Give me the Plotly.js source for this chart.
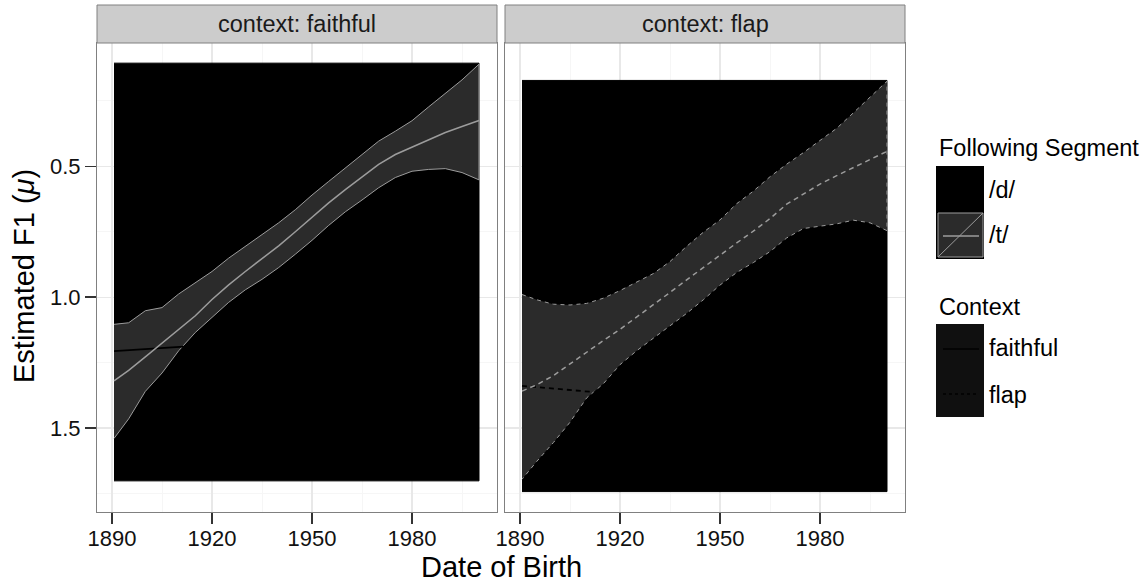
<!DOCTYPE html>
<html>
<head>
<meta charset="utf-8">
<script src="https://cdn.plot.ly/plotly-3.0.1.min.js"></script>
<style>html,body{margin:0;padding:0;background:#fff;}#chart{width:1148px;height:586px;}</style>
</head>
<body>
<div id="chart"></div>
<script>
// ---------------- DATA ----------------
const panels = ["faithful", "flap"];
const years = [1890.6, 1895, 1900, 1905, 1910, 1915, 1920, 1925, 1930, 1935, 1940, 1945,
               1950, 1955, 1960, 1965, 1970, 1975, 1980, 1985, 1990, 1995, 2000.1];

// context: faithful, following segment /t/
const faithfulTMean  = [1.320, 1.280, 1.228, 1.176, 1.124, 1.071, 1.009, 0.953, 0.902, 0.853, 0.804, 0.750,
                        0.695, 0.640, 0.589, 0.540, 0.493, 0.455, 0.426, 0.398, 0.371, 0.348, 0.325];
const faithfulTLow   = [1.104, 1.098, 1.052, 1.040, 0.988, 0.945, 0.902, 0.851, 0.806, 0.762, 0.716, 0.666,
                        0.610, 0.558, 0.506, 0.454, 0.404, 0.366, 0.326, 0.273, 0.222, 0.170, 0.110];
const faithfulTHigh  = [1.540, 1.465, 1.360, 1.290, 1.205, 1.135, 1.078, 1.020, 0.972, 0.932, 0.887, 0.836,
                        0.783, 0.726, 0.674, 0.629, 0.582, 0.543, 0.519, 0.512, 0.509, 0.524, 0.552];
// context: faithful, following segment /d/
const faithfulDMean  = [1.206, 1.202, 1.198, 1.194, 1.190, 1.186, 1.183, 1.180, 1.177, 1.174, 1.171, 1.168,
                        1.165, 1.162, 1.159, 1.156, 1.152, 1.148, 1.144, 1.139, 1.134, 1.128, 1.122];
const faithfulDLow   = [0.106, 0.106, 0.106, 0.106, 0.106, 0.106, 0.106, 0.106, 0.106, 0.106, 0.106, 0.106,
                        0.106, 0.106, 0.106, 0.106, 0.106, 0.106, 0.106, 0.106, 0.106, 0.106, 0.106];
const faithfulDHigh  = [1.702, 1.702, 1.702, 1.702, 1.702, 1.702, 1.702, 1.702, 1.702, 1.702, 1.702, 1.702,
                        1.702, 1.702, 1.702, 1.702, 1.702, 1.702, 1.702, 1.702, 1.702, 1.702, 1.702];

// context: flap, following segment /t/
const flapTMean = [1.359, 1.335, 1.300, 1.255, 1.208, 1.166, 1.123, 1.077, 1.030, 0.982, 0.934, 0.886,
                   0.838, 0.793, 0.748, 0.700, 0.645, 0.608, 0.568, 0.536, 0.505, 0.475, 0.443];
const flapTLow  = [0.990, 1.010, 1.027, 1.030, 1.024, 1.004, 0.975, 0.943, 0.910, 0.864, 0.806, 0.752,
                   0.705, 0.643, 0.595, 0.540, 0.492, 0.448, 0.403, 0.355, 0.296, 0.236, 0.175];
const flapTHigh = [1.696, 1.628, 1.556, 1.478, 1.385, 1.331, 1.258, 1.205, 1.157, 1.111, 1.062, 1.010,
                   0.954, 0.906, 0.868, 0.826, 0.774, 0.738, 0.729, 0.720, 0.706, 0.716, 0.746];
// context: flap, following segment /d/
const flapDMean = [1.339, 1.344, 1.350, 1.356, 1.361, 1.367, 1.372, 1.378, 1.383, 1.389, 1.394, 1.399,
                   1.404, 1.409, 1.414, 1.419, 1.424, 1.429, 1.434, 1.439, 1.444, 1.449, 1.454];
const flapDLow  = [0.172, 0.172, 0.172, 0.172, 0.172, 0.172, 0.172, 0.172, 0.172, 0.172, 0.172, 0.172,
                   0.172, 0.172, 0.172, 0.172, 0.172, 0.172, 0.172, 0.172, 0.172, 0.172, 0.172];
const flapDHigh = [1.743, 1.743, 1.743, 1.743, 1.743, 1.743, 1.743, 1.743, 1.743, 1.743, 1.743, 1.743,
                   1.743, 1.743, 1.743, 1.743, 1.743, 1.743, 1.743, 1.743, 1.743, 1.743, 1.743];

const xTickVals = [1890, 1920, 1950, 1980];
const yTickVals = [0.5, 1.0, 1.5];
const yTickText = ["0.5", "1.0", "1.5"];
const segmentLabels = ["/d/", "/t/"];
const contextLabels = ["faithful", "flap"];

// ---------------- STYLE ----------------
const FONT = "Liberation Sans, Arial, Helvetica, sans-serif";
const W = 1148, H = 586, ML = 97, MR = 243, MT = 43, MB = 74;
const PW = W - ML - MR, PH = H - MT - MB;
const px = v => (v - ML) / PW;
const py = v => (H - MB - v) / PH;

const T_FILL = "#2b2b2b", T_LINE = "#9c9c9c";
const dashFor = {faithful: "solid", flap: "5px,4px"};
const edgeDash = {faithful: "solid", flap: "4px,4px"};

function ribbon(xa, ya, lo, hi, fill, line, dash) {
  const xs = years.concat(years.slice().reverse());
  const ys = lo.concat(hi.slice().reverse());
  return {x: xs, y: ys, xaxis: xa, yaxis: ya, type: "scatter", mode: "lines",
          fill: "toself", fillcolor: fill, line: {color: line, width: 1, dash: dash},
          hoverinfo: "skip", showlegend: false};
}
function meanLine(xa, ya, vals, color, dash, w) {
  return {x: years, y: vals, xaxis: xa, yaxis: ya, type: "scatter", mode: "lines",
          line: {color: color, width: w, dash: dash}, showlegend: false, hoverinfo: "skip"};
}

const traces = [
  ribbon("x", "y", faithfulDLow, faithfulDHigh, "#000000", "#000000", "solid"),
  ribbon("x", "y", faithfulTLow, faithfulTHigh, T_FILL, T_LINE, edgeDash.faithful),
  meanLine("x", "y", faithfulDMean, "#000000", dashFor.faithful, 1.8),
  meanLine("x", "y", faithfulTMean, T_LINE, dashFor.faithful, 1.5),
  ribbon("x2", "y2", flapDLow, flapDHigh, "#000000", "#000000", "solid"),
  ribbon("x2", "y2", flapTLow, flapTHigh, T_FILL, T_LINE, edgeDash.flap),
  meanLine("x2", "y2", flapDMean, "#000000", dashFor.flap, 1.8),
  meanLine("x2", "y2", flapTMean, T_LINE, dashFor.flap, 1.5)
];

const gridMajor = "#e8e8e8", gridMinor = "#f6f6f6", border = "#808080";
function xax(domain) {
  return {domain: domain, range: [1885.5, 2005.5], tickmode: "array", tickvals: xTickVals,
          ticks: "outside", ticklen: 11, tickwidth: 1.5, tickcolor: "#333333", ticklabelstandoff: -4,
          showgrid: true, gridcolor: gridMajor, gridwidth: 1.2,
          minor: {dtick: 15, tick0: 1890, showgrid: true, gridcolor: gridMinor, gridwidth: 1, ticks: ""},
          showline: true, mirror: true, linecolor: border, linewidth: 1,
          zeroline: false, tickfont: {family: FONT, size: 22, color: "#111111"}};
}
function yax(anchor, showLabels) {
  return {anchor: anchor, domain: [0, 1], range: [1.821, 0.029], tickmode: "array",
          tickvals: yTickVals, ticktext: yTickText, showticklabels: showLabels,
          ticks: showLabels ? "outside" : "", ticklen: 11, tickwidth: 1.5, tickcolor: "#333333",
          showgrid: true, gridcolor: gridMajor, gridwidth: 1.2,
          minor: {dtick: 0.25, tick0: 0, showgrid: true, gridcolor: gridMinor, gridwidth: 1, ticks: ""},
          showline: true, mirror: true, linecolor: border, linewidth: 1,
          zeroline: false, tickfont: {family: FONT, size: 22, color: "#111111"}};
}

const shapes = [], annotations = [];
// strips
["x", "x2"].forEach((xa, i) => {
  shapes.push({type: "rect", xref: xa + " domain", yref: "paper", x0: 0, x1: 1, y0: py(43), y1: py(5),
               fillcolor: "#cccccc", line: {color: border, width: 1}, layer: "above"});
  annotations.push({xref: xa + " domain", yref: "paper", x: 0.5, y: py(24), text: "context: " + panels[i],
                    showarrow: false, xanchor: "center", yanchor: "middle",
                    font: {family: FONT, size: 23.5, color: "#1a1a1a"}});
});
// axis titles
annotations.push({xref: "paper", yref: "paper", x: px(501), y: py(567), text: "Date of Birth",
                  showarrow: false, xanchor: "center", yanchor: "middle",
                  font: {family: FONT, size: 29, color: "#000000"}});
annotations.push({xref: "paper", yref: "paper", x: px(24), y: py(276), text: "Estimated F1 (<i>μ</i>)",
                  textangle: -90, showarrow: false, xanchor: "center", yanchor: "middle",
                  font: {family: FONT, size: 29, color: "#000000"}});
// legend: Following Segment
const legFont = {family: FONT, size: 23.5, color: "#000000"};
annotations.push({xref: "paper", yref: "paper", x: px(937), y: py(148), text: "Following Segment",
                  showarrow: false, xanchor: "left", yanchor: "middle", font: legFont});
shapes.push({type: "rect", xref: "paper", yref: "paper", x0: px(936), x1: px(984), y0: py(212), y1: py(166),
             fillcolor: "#000000", line: {width: 0}});
shapes.push({type: "rect", xref: "paper", yref: "paper", x0: px(936), x1: px(984), y0: py(259), y1: py(212),
             fillcolor: "#000000", line: {width: 0}});
shapes.push({type: "rect", xref: "paper", yref: "paper", x0: px(938), x1: px(983), y0: py(257), y1: py(213),
             fillcolor: T_FILL, line: {color: T_LINE, width: 1}});
shapes.push({type: "line", xref: "paper", yref: "paper", x0: px(943), x1: px(979), y0: py(236), y1: py(236),
             line: {color: T_LINE, width: 1.5}});
shapes.push({type: "line", xref: "paper", yref: "paper", x0: px(938), x1: px(983), y0: py(257), y1: py(213),
             line: {color: T_LINE, width: 1}});
annotations.push({xref: "paper", yref: "paper", x: px(987), y: py(190), text: segmentLabels[0],
                  showarrow: false, xanchor: "left", yanchor: "middle", font: legFont});
annotations.push({xref: "paper", yref: "paper", x: px(987), y: py(235), text: segmentLabels[1],
                  showarrow: false, xanchor: "left", yanchor: "middle", font: legFont});
// legend: Context
annotations.push({xref: "paper", yref: "paper", x: px(937), y: py(307), text: "Context",
                  showarrow: false, xanchor: "left", yanchor: "middle", font: legFont});
shapes.push({type: "rect", xref: "paper", yref: "paper", x0: px(936), x1: px(984), y0: py(417), y1: py(324),
             fillcolor: "#101010", line: {width: 0}});
shapes.push({type: "line", xref: "paper", yref: "paper", x0: px(943), x1: px(979), y0: py(349), y1: py(349),
             line: {color: "#000000", width: 1.5}});
shapes.push({type: "line", xref: "paper", yref: "paper", x0: px(943), x1: px(979), y0: py(394), y1: py(394),
             line: {color: "#000000", width: 1.5, dash: "3px,3px"}});
annotations.push({xref: "paper", yref: "paper", x: px(987), y: py(348), text: contextLabels[0],
                  showarrow: false, xanchor: "left", yanchor: "middle", font: legFont});
annotations.push({xref: "paper", yref: "paper", x: px(987), y: py(395), text: contextLabels[1],
                  showarrow: false, xanchor: "left", yanchor: "middle", font: legFont});

const layout = {
  width: W, height: H, margin: {l: ML, r: MR, t: MT, b: MB, pad: 0},
  paper_bgcolor: "#ffffff", plot_bgcolor: "#ffffff", showlegend: false,
  font: {family: FONT},
  xaxis: Object.assign(xax([0, 400 / 808]), {anchor: "y"}),
  xaxis2: Object.assign(xax([408 / 808, 1]), {anchor: "y2"}),
  yaxis: yax("x", true),
  yaxis2: yax("x2", false),
  shapes: shapes, annotations: annotations
};

Plotly.newPlot("chart", traces, layout, {displayModeBar: false, staticPlot: true});
</script>
</body>
</html>
